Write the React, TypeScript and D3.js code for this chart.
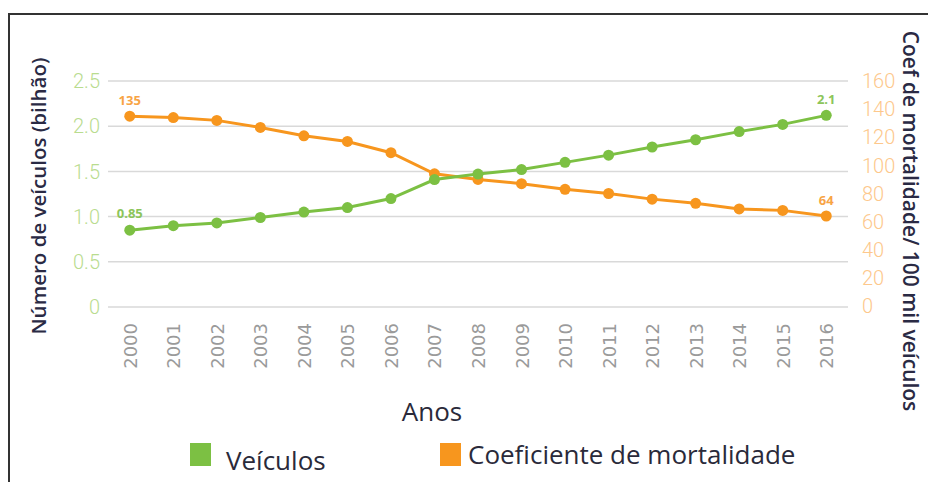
import React from "react";
import * as d3 from "d3";

const years = ["2000","2001","2002","2003","2004","2005","2006","2007","2008","2009","2010","2011","2012","2013","2014","2015","2016"];
const vehicles = [0.85, 0.9, 0.93, 0.99, 1.05, 1.1, 1.2, 1.41, 1.47, 1.52, 1.6, 1.68, 1.77, 1.85, 1.94, 2.02, 2.12];
const mortality = [135, 134, 132, 127, 121, 117, 109, 94, 90, 87, 83, 80, 76, 73, 69, 68, 64];
const leftTicks = [0, 0.5, 1.0, 1.5, 2.0, 2.5];
const rightTicks = [0, 20, 40, 60, 80, 100, 120, 140, 160];

const GREEN = "#7cc043";
const ORANGE = "#f7961e";

const width = 928;
const height = 482;
const left = 108;
const right = 848;
const top = 81;
const bottom = 307;

const App: React.FC = () => {
  const x = d3.scalePoint<string>().domain(years).range([left, right]).padding(0.5);
  const yL = d3.scaleLinear().domain([0, 2.5]).range([bottom, top]);
  const yR = d3.scaleLinear().domain([0, 160]).range([bottom - 1, top]);

  const lineL = d3.line<number>().x((_, i) => x(years[i])!).y((d) => yL(d));
  const lineR = d3.line<number>().x((_, i) => x(years[i])!).y((d) => yR(d));

  const last = years.length - 1;

  return (
    <svg
      width={width}
      height={height}
      viewBox={`0 0 ${width} ${height}`}
      style={{ position: "absolute", left: 0, top: 0, display: "block", background: "#fff" }}
    >
      {/* frame */}
      <path d={`M9,${height + 2}V14H${width + 2}`} fill="none" stroke="#333" strokeWidth={2} />

      {/* grid + left ticks */}
      {leftTicks.map((t) => (
        <g key={t}>
          <line x1={left} x2={right} y1={yL(t)} y2={yL(t)} stroke="#d9d9d9" strokeWidth={1.5} />
          <text
            x={100}
            y={yL(t)}
            dy="0.36em"
            textAnchor="end"
            fontFamily="Roboto"
            fontWeight={300}
            fontSize={20}
            fill="#b9dc8f"
          >
            {t === 0 ? "0" : t.toFixed(1)}
          </text>
        </g>
      ))}

      {/* right ticks */}
      {rightTicks.map((t) => (
        <text
          key={t}
          x={862}
          y={yR(t)}
          dy="0.36em"
          textAnchor="start"
          fontFamily="Roboto"
          fontWeight={300}
          fontSize={20}
          fill="#fdc88c"
        >
          {t}
        </text>
      ))}

      {/* x ticks */}
      {years.map((yr) => (
        <text
          key={yr}
          transform={`translate(${x(yr)! + 7},323) rotate(-90)`}
          textAnchor="end"
          fontFamily="DejaVu Sans"
          fontSize={18}
          fill="#9a9a9a"
        >
          {yr}
        </text>
      ))}

      {/* lines */}
      <path d={lineR(mortality)!} fill="none" stroke={ORANGE} strokeWidth={3} />
      {mortality.map((v, i) => (
        <circle key={"o" + i} cx={x(years[i])} cy={yR(v)} r={5.5} fill={ORANGE} />
      ))}
      <path d={lineL(vehicles)!} fill="none" stroke={GREEN} strokeWidth={3} />
      {vehicles.map((v, i) => (
        <circle key={"g" + i} cx={x(years[i])} cy={yL(v)} r={5.5} fill={GREEN} />
      ))}

      {/* value labels */}
      <g fontFamily="Open Sans" fontWeight={700} fontSize={13} textAnchor="middle">
        <text x={x(years[0])} y={yL(vehicles[0]) - 12} fill="#8cc55a">{vehicles[0]}</text>
        <text x={x(years[last])} y={yL(vehicles[last]) - 11} fill="#8cc55a">2.1</text>
        <text x={x(years[0])} y={yR(mortality[0]) - 11} fill="#f8a445">{mortality[0]}</text>
        <text x={x(years[last])} y={yR(mortality[last]) - 11} fill="#f8a445">{mortality[last]}</text>
      </g>

      {/* axis titles */}
      <text
        transform="translate(46,196) rotate(-90)"
        textAnchor="middle"
        fontFamily="Open Sans"
        fontWeight={600}
        fontSize={20.5}
        fill="#2a2a44"
      >
        Número de veículos (bilhão)
      </text>
      <text
        transform="translate(903,221) rotate(90)"
        textAnchor="middle"
        fontFamily="Open Sans"
        fontWeight={600}
        fontSize={21}
        fill="#2a2a44"
      >
        Coef de mortalidade/ 100 mil veículos
      </text>
      <text x={432} y={421} textAnchor="middle" fontFamily="Open Sans" fontSize={26} fill="#2a2a3a">
        Anos
      </text>

      {/* legend */}
      <rect x={190} y={443} width={21} height={23} fill={GREEN} />
      <text x={226} y={470} fontFamily="Open Sans" fontSize={26} fill="#2a2a3a">Veículos</text>
      <rect x={440} y={443} width={21} height={23} fill={ORANGE} />
      <text x={468} y={464} fontFamily="Open Sans" fontSize={26} fill="#2a2a3a">Coeficiente de mortalidade</text>
    </svg>
  );
};

export default App;
